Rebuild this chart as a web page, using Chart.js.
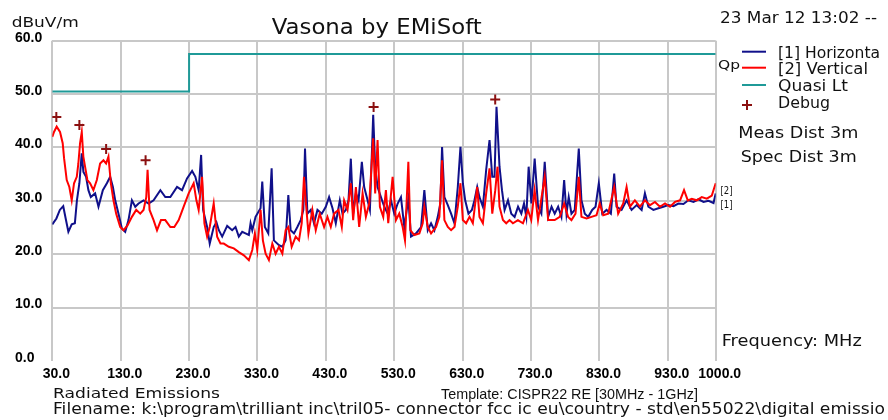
<!DOCTYPE html>
<html><head><meta charset="utf-8">
<script src="https://cdn.jsdelivr.net/npm/chart.js@4/dist/chart.umd.min.js"></script>
<style>html,body{margin:0;padding:0;background:#fff;overflow:hidden}#wrap{position:relative;width:888px;height:420px}</style>
</head><body><div id="wrap"><canvas id="c" width="888" height="420"></canvas></div>
<script>
// ---- data ----
const xTickValues = [30,130,230,330,430,530,630,730,830,930,1000];
const yTickValues = [0,10,20,30,40,50,60];

const hFreq = [30,36,41,46,50,53.5,58.4,63,66,69.6,73,75.5,79.4,82.8,86.3,92.6,97.5,103.9,109.8,114.6,118.6,122,126.8,131.8,136.6,141.4,146.4,151.3,156.1,163.4,170.8,178.1,188,195.2,202.6,212.4,219.7,227,234.4,239.2,244,247.6,250.5,256.4,260.2,266,270,273.5,278.4,285.7,293,297.9,302.7,307.7,312.5,317.4,319.9,322.4,327.2,334.5,337,340.8,345.8,350.7,354,361.4,366.4,371.2,375.1,378.5,383.4,388.3,393.2,397.1,399.5,403,407.9,412.7,417.7,424,429.9,434.7,439.7,444.5,450.4,454.3,459.2,463.1,466.5,469.9,473.9,477.8,482.6,486,491,494.4,499.2,502.1,505.6,510.5,515.4,520.3,525.2,530,535,539.8,544.7,550.6,554.5,561.8,569.2,574,579,583.8,588.7,593.6,597.4,599.9,603.3,608.3,613.1,618,622.9,626.8,630.3,633.7,638.5,643.5,647.3,651.3,654.6,659.6,664.4,669.3,673.3,676.6,679.5,683.9,687.5,691.3,696.3,701.1,706,711,715.8,719.7,723.1,726.5,730.5,735.3,740.3,745.1,750,755,760,764.6,769.6,774.4,778.4,781.8,785.1,789.1,793.9,799.8,803.7,808.6,813.6,819.4,824.3,829.1,834.1,840.4,846.7,851.6,855,862.4,869.7,877,884.4,891.7,896.5,901.5,908.9,916.2,923.5,930.8,938.2,945.5,952.8,960.1,967.5,974.8,982.2,989.5,996.8,1000];
const hLevel = [25.6,26.7,28.3,29.0,26.4,24.2,25.6,25.8,30.1,33.3,38.9,35.4,34.5,32.0,30.7,31.4,28.9,32.0,33.3,34.5,32.6,30.1,27.6,24.8,24.2,26.4,30.1,28.9,29.5,30.1,29.5,30.1,32.0,30.7,30.7,32.6,32.0,34.2,35.6,34.5,32.0,38.6,28.3,25.1,22.0,25.1,26.0,24.5,23.3,25.3,24.5,25.1,23.3,24.2,23.9,23.6,25.8,24.5,27.0,28.6,33.6,25.1,23.9,36.1,22.6,21.7,21.4,22.6,31.1,24.5,23.9,25.1,26.4,28.3,39.8,27.6,28.3,25.8,28.3,27.6,28.9,30.7,28.6,25.8,30.1,27.6,28.3,30.1,37.9,27.6,31.4,30.1,37.3,32.6,30.1,28.3,46.1,36.4,32.6,30.7,28.9,27.6,30.1,27.6,29.5,30.7,25.1,30.4,23.3,23.9,25.1,32.0,24.5,25.8,24.5,27.0,29.5,40.1,30.7,29.2,27.6,25.8,32.6,40.1,33.3,30.1,27.6,28.3,30.1,32.6,30.7,28.9,35.8,41.4,34.5,34.5,47.6,36.4,32.0,28.3,30.1,27.6,27.0,28.9,27.6,29.5,27.0,36.4,29.5,37.9,28.9,27.6,37.3,27.0,28.9,27.6,28.9,27.0,33.9,27.6,30.7,27.6,28.3,39.8,30.1,27.6,27.0,28.3,28.9,33.3,27.6,28.3,27.6,35.1,28.9,28.3,30.1,28.3,29.2,28.3,31.4,28.9,28.3,28.6,28.9,29.2,29.0,29.5,29.4,30.1,29.8,30.3,29.8,30.0,29.6,31.4];

const vFreq = [30,32.5,36.4,41.3,45.2,47.2,51.1,54.9,58.4,61.8,65.8,68.1,70.6,73.1,75.4,77.9,81.3,85.3,90.1,95.1,99.9,104.8,108.7,112.1,115.6,119.4,123.4,129.3,134.1,140,146.4,152.7,158.6,163.4,167.4,169.3,172.2,178.1,183.1,188.9,195.2,202.6,208.4,214.8,222.1,229.4,236.7,240.7,244,249,252.4,256.4,260.2,266,271,275.9,280.7,288.1,295.4,302.7,310.1,317.4,322.4,326.2,329.7,334.5,337.9,341.9,346.7,351.7,356.5,361.4,366.4,371.2,375.1,380,385.9,390.7,394.7,398,400.5,404.5,410.3,415.2,421,427.4,432.3,437.2,442,448.5,453.3,456.7,461.7,466.5,469.9,473.9,478.7,483.7,488.5,493.4,499.2,502.1,505.6,509,513.9,517.8,521.2,527.6,532.5,537.3,542.3,545.7,550.6,553.5,559.3,566.7,571.6,574,579,583.8,591.1,596,599.9,603.3,608.3,613.1,618,622.9,626.8,630.3,635.1,640,644.9,651.3,654.6,659.6,664.4,669.3,673.3,677.7,681,683.9,688.9,693.7,698.5,703.5,710.8,718.2,725.5,730.3,735.2,740.2,750,755,764.6,772,778.4,784.2,789.1,795,799.8,803.7,811.1,818.4,825.7,830.5,835.5,842.8,851.6,857.4,864.8,869.7,874.5,881.8,889.2,896.5,903.9,911.2,918.5,925.9,933.2,940.5,947.9,953.7,959.2,965,972.3,979.6,987,994.3,1000];
const vLevel = [42.0,42.9,43.9,42.9,40.8,38.0,33.9,32.6,30.1,33.3,34.5,37.0,40.8,42.9,38.3,36.4,33.9,33.3,32.0,33.9,37.0,37.6,37.0,38.3,33.3,30.1,27.6,25.1,24.5,25.4,27.0,28.3,27.6,28.3,30.7,35.8,28.3,26.4,24.5,26.4,26.4,25.1,25.1,26.4,28.9,31.4,33.3,30.1,28.3,34.5,25.8,23.3,25.1,29.5,23.3,22.0,22.0,21.4,21.1,20.4,19.8,18.9,20.8,23.9,20.8,28.3,22.6,20.1,18.9,22.0,20.1,21.4,20.1,24.5,25.1,21.4,23.3,22.6,25.8,34.5,30.1,23.9,28.3,24.5,27.6,25.1,27.0,25.1,27.6,28.3,25.1,30.1,28.3,33.3,26.4,32.6,25.1,31.4,27.0,29.5,41.7,31.4,41.4,28.9,27.0,32.0,25.8,34.5,26.4,27.6,25.1,22.6,37.3,24.5,23.6,23.9,25.8,28.9,25.1,23.9,25.1,27.0,37.6,26.4,25.1,24.5,25.1,28.9,33.3,26.4,25.8,27.0,25.8,32.6,27.0,25.8,31.4,36.1,27.6,32.0,36.4,28.9,26.4,25.8,26.4,25.8,26.4,25.8,28.3,26.4,32.0,26.4,34.5,26.4,26.4,27.0,29.5,27.0,26.4,27.6,34.5,27.0,26.7,27.0,27.3,29.5,27.3,27.6,32.6,27.6,29.5,32.6,28.9,30.1,28.9,30.1,29.2,29.8,28.9,29.5,28.9,29.8,30.1,32.0,30.1,30.4,30.1,30.7,30.4,31.0,33.3];

const limitFreq = [30,230,230,1000];
const limitLevel = [50.5,50.5,57.5,57.5];

const debugFreq = [35.9,69.6,108.7,166.4,499.8,677.6];
const debugLevel = [45.7,44.2,39.7,37.6,47.6,49.0];

// ---- drawing ----
const toPts = (f, v) => f.map((x, i) => ({x: x, y: v[i]}));
const FONT = "'DejaVu Sans', 'Liberation Sans', sans-serif";
const FONT2 = "'Liberation Sans', Arial, sans-serif";
const texts = [
  {t:'dBuV/m', x:11.7, b:26.7, w:67, s:14, f:FONT},
  {t:'Vasona by EMiSoft', x:271.7, b:34.3, w:210, s:22, f:FONT},
  {t:'23 Mar 12 13:02 --', x:720, b:23.3, w:157, s:16, f:FONT},
  {t:'Qp', x:718, b:68.5, w:22, s:12, f:FONT},
  {t:'[1] Horizonta', x:778, b:58.3, w:102, s:16, f:FONT},
  {t:'[2] Vertical', x:778, b:74, w:90, s:16, f:FONT},
  {t:'Quasi Lt', x:778, b:90.7, w:70, s:16, f:FONT},
  {t:'Debug', x:778, b:108.3, w:52, s:16, f:FONT},
  {t:'Meas Dist 3m', x:738.3, b:138.3, w:120, s:16, f:FONT},
  {t:'Spec Dist 3m', x:740.7, b:161.7, w:116, s:16, f:FONT},
  {t:'Frequency: MHz', x:721.7, b:346, w:140, s:16, f:FONT},
  {t:'Radiated Emissions', x:53, b:398.3, w:167, s:14, f:FONT},
  {t:'Template: CISPR22 RE [30MHz - 1GHz]', x:441, b:399.3, w:257, s:15, f:FONT2},
  {t:'Filename: k:\\program\\trilliant inc\\tril05- connector fcc ic eu\\country - std\\en55022\\digital emissio', x:53, b:414, w:832, s:15, f:FONT},
  {t:'[2]', x:720.5, b:194, w:12, s:10, f:FONT},
  {t:'[1]', x:720.5, b:208, w:12, s:10, f:FONT}
];
const decor = {
  id:'decor',
  afterDraw(chart){
    const ctx = chart.ctx;
    ctx.save();
    ctx.fillStyle = '#111';
    ctx.textBaseline = 'alphabetic';
    ctx.textAlign = 'left';
    texts.forEach(o => {
      ctx.font = o.s + 'px ' + o.f;
      const m = ctx.measureText(o.t).width;
      ctx.save();
      ctx.translate(o.x, o.b);
      ctx.scale(o.w / m, 1);
      ctx.fillText(o.t, 0, 0);
      ctx.restore();
    });
    const ls = [['#10108a',51.7],['#ff0000',67.7],['#1f9a98',85]];
    ctx.lineWidth = 2;
    ls.forEach(([c,y]) => { ctx.strokeStyle = c; ctx.beginPath(); ctx.moveTo(742,y); ctx.lineTo(766,y); ctx.stroke(); });
    ctx.strokeStyle = '#8b1010';
    ctx.beginPath(); ctx.moveTo(742,105); ctx.lineTo(752,105); ctx.moveTo(747,100); ctx.lineTo(747,110); ctx.stroke();
    ctx.restore();
  }
};
const tickFont = {family:"'Liberation Sans', Arial, sans-serif", size:14, weight:'bold'};
new Chart(document.getElementById('c'), {
  type:'line',
  data:{datasets:[
    {label:'Debug', data:toPts(debugFreq, debugLevel), showLine:false, pointStyle:'cross', pointRadius:5, pointBorderWidth:2, borderColor:'#8b1010', backgroundColor:'#8b1010', order:0},
    {label:'[2] Vertical', data:toPts(vFreq, vLevel), borderColor:'#ff0000', borderWidth:2, pointRadius:0, tension:0, order:1},
    {label:'[1] Horizontal', data:toPts(hFreq, hLevel), borderColor:'#10108a', borderWidth:2, pointRadius:0, tension:0, order:2},
    {label:'Quasi Lt', data:toPts(limitFreq, limitLevel), borderColor:'#1f9a98', borderWidth:2, pointRadius:0, tension:0, order:3}
  ]},
  options:{
    responsive:false, animation:false, devicePixelRatio:1,
    layout:{padding:{left:15, top:40.7, right:172.3, bottom:35}},
    plugins:{legend:{display:false}, tooltip:{enabled:false}, title:{display:false}},
    scales:{
      x:{type:'linear', min:30, max:1000,
        afterBuildTicks:s => { s.ticks = xTickValues.map(v => ({value:v})); },
        afterFit:s => { s.height = 24; },
        grid:{color:'#c8c8c8', lineWidth:2, drawTicks:false}, border:{display:false},
        ticks:{font:tickFont, color:'#000', padding:5, labelOffset:4, maxRotation:0, autoSkip:false, callback:v => Number(v).toFixed(1)}},
      y:{type:'linear', min:0, max:60,
        afterBuildTicks:s => { s.ticks = yTickValues.map(v => ({value:v})); },
        afterFit:s => { s.width = 37.3; },
        grid:{color:c => (c.tick && c.tick.value === 0) ? 'rgba(0,0,0,0)' : '#c8c8c8', lineWidth:2, drawTicks:false}, border:{display:false},
        ticks:{font:tickFont, color:'#000', padding:4, crossAlign:'far', labelOffset:-3, callback:v => Number(v).toFixed(1)}}
    }
  },
  plugins:[decor]
});
</script></body></html>
